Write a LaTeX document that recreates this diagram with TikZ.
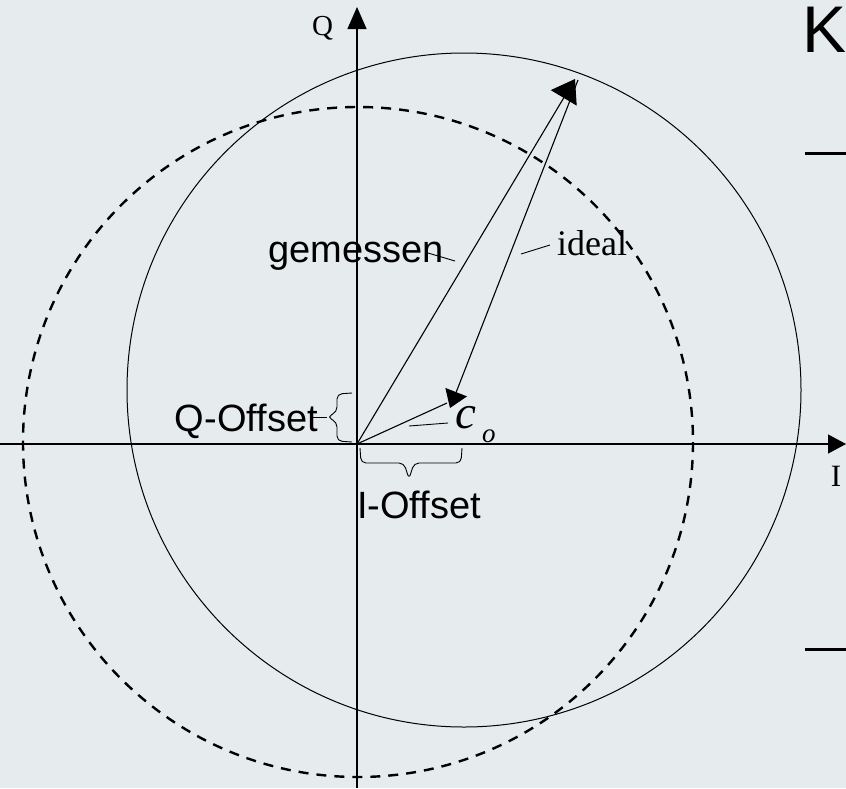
\documentclass[tikz,border=0pt]{standalone}
\usepackage{fontspec}
\setmainfont{Liberation Serif}
\newfontfamily\arialf{Liberation Sans}
\usetikzlibrary{arrows.meta}
\definecolor{bgc}{RGB}{230,235,238}
\begin{document}
\begin{tikzpicture}[x=1pt,y=-1pt,
  axisline/.style={line width=1.3pt},
  vecline/.style={line width=1.1pt},
  thinline/.style={line width=0.9pt},
  sanslbl/.style={font=\arialf\fontsize{38}{40}\selectfont, inner sep=0pt},
  seriflbl/.style={inner sep=0pt}]
\fill[bgc] (0,0) rectangle (846,788);
\useasboundingbox (0,0) rectangle (846,788);
% coordinates
\coordinate (O) at (357,444);
\coordinate (Qbot) at (357,788);
\coordinate (Qtop) at (357,7);
\coordinate (Ileft) at (0,444);
\coordinate (Iright) at (846,444);
\coordinate (M) at (575,79);
\coordinate (Mi) at (578,80);
\coordinate (C) at (450,408);
\coordinate (Ce) at (447,403);
% circles
\draw[line width=2.4pt, dash pattern=on 10pt off 8pt] (358,442) circle[radius=335];
\draw[line width=1pt] (464,390) circle[radius=337];
% axes
\draw[axisline,-{Triangle[length=22pt,width=19pt]}] (Qbot) -- (Qtop);
\draw[axisline,-{Triangle[length=18pt,width=19pt]}] (Ileft) -- (Iright);
% vectors
\draw[vecline,-{Triangle[length=22pt,width=30pt]}] (O) -- (M);
\draw[vecline,-{Triangle[length=17pt,width=23pt]}] (Mi) -- (C);
\draw[vecline] (O) -- (Ce);
% labels
\node[seriflbl, anchor=base west, font=\fontsize{29}{30}\selectfont] (qlbl) at (312,35) {Q};
\node[seriflbl, anchor=base, font=\fontsize{31}{32}\selectfont] (ilbl) at (836,486) {I};
\node[anchor=base west, inner sep=0pt, font=\arialf\fontsize{66}{70}\selectfont] (klbl) at (802,52) {K};
\node[sanslbl, anchor=base west] (gem) at (268,262) {gemessen};
\node[seriflbl, anchor=base west, font=\fontsize{36}{38}\selectfont] (ideal) at (557,255) {ideal};
\node[sanslbl, anchor=base east] (qoff) at (318,431) {Q-Offset};
\node[sanslbl, anchor=base west] (ioff) at (357,518) {I-Offset};
\node[seriflbl, anchor=base west, font=\itshape\fontsize{47}{48}\selectfont] (co) at (455,428) {c};
\node[seriflbl, anchor=base west, font=\itshape\fontsize{27}{28}\selectfont] (cosub) at (482,442) {o};
% leader lines
\coordinate (g1) at (428,253); \coordinate (g2) at (455,261);
\draw[thinline] (g1) -- (g2);
\coordinate (d1) at (550,245); \coordinate (d2) at (521,254);
\draw[thinline] (d1) -- (d2);
\coordinate (c1) at (448,423); \coordinate (c2) at (409,426);
\draw[thinline] (c1) -- (c2);
\coordinate (q1) at (313,417); \coordinate (qtip) at (327,417);
\draw[thinline] (q1) -- (qtip);
% braces
\draw[thinline, rounded corners=5pt] (352,393) -- (337,394) -- (337,412) -- (qtip) -- (337,422) -- (337,441) -- (352,442);
\draw[thinline, rounded corners=5pt] (360,448) -- (361,463) -- (404,463) -- (409,479) -- (414,463) -- (461,463) -- (462,448);
% right edge marks
\coordinate (r1a) at (805,153); \coordinate (r1b) at (846,153);
\coordinate (r2a) at (805,649); \coordinate (r2b) at (846,649);
\draw[line width=3pt] (r1a) -- (r1b);
\draw[line width=3pt] (r2a) -- (r2b);
\end{tikzpicture}
\end{document}
